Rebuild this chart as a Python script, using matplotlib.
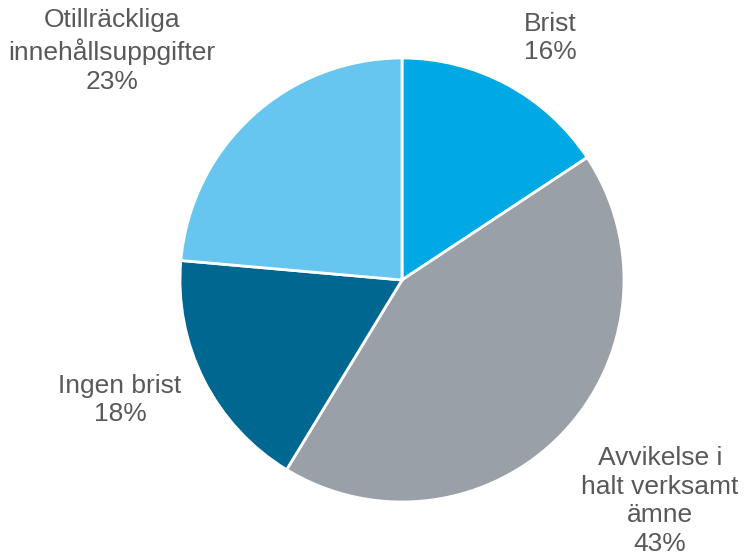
import matplotlib
matplotlib.use("Agg")
import matplotlib.pyplot as plt

labels = ["Brist", "Avvikelse i\nhalt verksamt\nämne", "Ingen brist", "Otillräckliga\ninnehållsuppgifter"]
# slice shares; printed labels are the rounded figures
values = [15.7, 43.0, 17.7, 23.6]
pct_labels = ["16%", "43%", "18%", "23%"]
colors = ["#00a8e4", "#9aa0a8", "#006890", "#66c6ef"]
# label anchor points (pixels, top-left origin)
label_pos = [(550, 38), (660, 501), (120, 400), (112, 51)]

plt.rcParams['font.family'] = ['Liberation Sans', 'DejaVu Sans']

W, H = 744, 560
fig = plt.figure(figsize=(W / 100, H / 100), dpi=100)
ax = fig.add_axes([0, 0, 1, 1])

ax.pie(values, colors=colors, startangle=90, counterclock=False,
       center=(402, H - 280), radius=222, frame=True,
       wedgeprops=dict(edgecolor="white", linewidth=2))
ax.set_xlim(0, W)
ax.set_ylim(0, H)
ax.axis("off")

for lab, p, (x, y) in zip(labels, pct_labels, label_pos):
    ax.text(x, H - y, "{}\n{}".format(lab, p), ha="center", va="center",
            fontsize=19, color="#595959", linespacing=1.26)

fig.savefig("out.png", dpi=100)
